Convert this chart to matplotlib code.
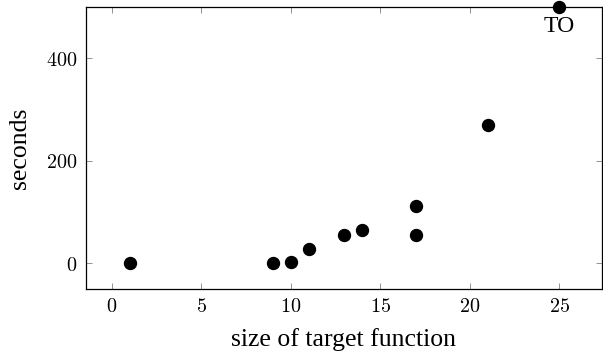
import matplotlib.pyplot as plt

plt.rcParams['mathtext.fontset'] = 'cm'

sizes = [1, 9, 10, 11, 13, 14, 17, 17, 21, 25]
seconds = [0, 1, 2, 27, 56, 65, 112, 55, 269, 500]
xticks = [0, 5, 10, 15, 20, 25]
yticks = [0, 200, 400]

fig = plt.figure(figsize=(6.03, 3.53), dpi=100)
ax = fig.add_axes([0.1426, 0.181, 0.855, 0.799])

ax.plot(sizes, seconds, 'o', color='black', markersize=8.6, clip_on=False, zorder=3)
ax.annotate('TO', (sizes[-1], seconds[-1]), xytext=(0, -6.5), textcoords='offset points',
            ha='center', va='top', fontsize=17, family='Liberation Serif')

ax.set_xlim(-1.43, 27.35)
ax.set_ylim(-50.5, 500)
ax.set_xticks(xticks)
ax.set_xticklabels([f'${t}$' for t in xticks])
ax.set_yticks(yticks)
ax.set_yticklabels([f'${t}$' for t in yticks])
ax.tick_params(direction='in', length=4, width=0.6, color='#808080',
               top=True, right=True, labelsize=14.5, pad=6)
for s in ax.spines.values():
    s.set_linewidth(0.9)

ax.set_xlabel('size of target function', fontsize=18.5, family='Liberation Serif', labelpad=8)
ax.set_ylabel('seconds', fontsize=18.5, family='Liberation Serif', labelpad=11)

fig.savefig('out.png', dpi=100)
